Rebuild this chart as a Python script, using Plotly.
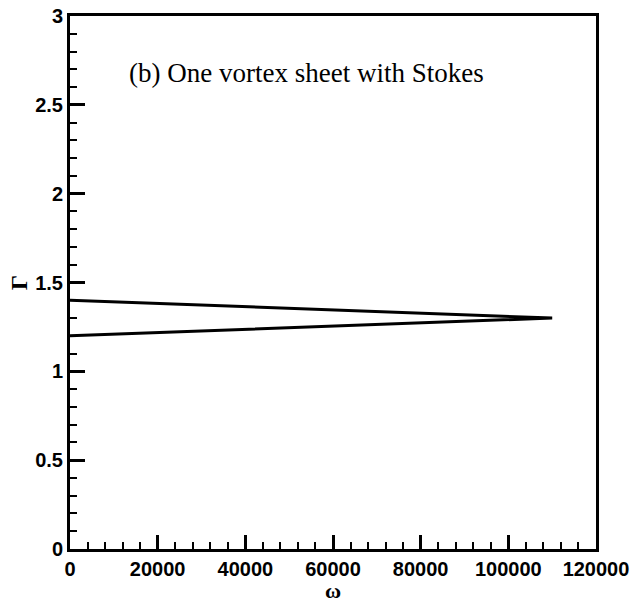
import plotly.graph_objects as go

# Data
omega = [0, 110000, 0]
gamma = [1.4, 1.3, 1.2]

x_ticks = [0, 20000, 40000, 60000, 80000, 100000, 120000]
y_ticks = [0, 0.5, 1, 1.5, 2, 2.5, 3]
y_tick_labels = ["0", "0.5", "1", "1.5", "2", "2.5", "3"]

title_text = "(b) One vortex sheet with Stokes"
x_label = "ω"
y_label = "Γ"

fig = go.Figure()
fig.add_trace(go.Scatter(x=omega, y=gamma, mode="lines",
                         line=dict(color="black", width=3), showlegend=False,
                         cliponaxis=False))

tickfont = dict(family="Liberation Sans", size=20, color="black", weight="bold")

fig.update_layout(
    width=637, height=606,
    margin=dict(l=70, r=41, t=16, b=57),
    paper_bgcolor="white", plot_bgcolor="white",
    xaxis=dict(range=[0, 120000], tickvals=x_ticks, ticktext=[str(v) for v in x_ticks],
               ticks="inside", ticklen=14, tickwidth=3, tickcolor="black",
               showline=True, linewidth=3, linecolor="black", mirror=True,
               showgrid=False, zeroline=False, tickfont=tickfont, automargin=False,
               minor=dict(dtick=4000, tick0=0, ticks="inside", ticklen=7, tickwidth=1.5, tickcolor="black")),
    yaxis=dict(range=[0, 3], tickvals=y_ticks, ticktext=y_tick_labels,
               ticks="inside", ticklen=15, tickwidth=3, tickcolor="black",
               showline=True, linewidth=3, linecolor="black", mirror=True,
               showgrid=False, zeroline=False, tickfont=tickfont, automargin=False,
               minor=dict(dtick=0.1, tick0=0, ticks="inside", ticklen=7, tickwidth=1.5, tickcolor="black"),
               title=dict(text=y_label, font=dict(family="Liberation Serif", size=24, color="black", weight="bold"),
                          standoff=1)),
    annotations=[
        dict(text=title_text, xref="paper", yref="paper", x=0.108, y=0.893,
             xanchor="left", yanchor="middle", showarrow=False,
             font=dict(family="Liberation Serif", size=27, color="black")),
        dict(text=x_label, xref="paper", yref="paper", x=0.5, y=-0.0775,
             xanchor="center", yanchor="middle", showarrow=False,
             font=dict(family="Liberation Serif", size=22, color="black", weight="bold")),
    ],
)

fig.write_html("out.html")
